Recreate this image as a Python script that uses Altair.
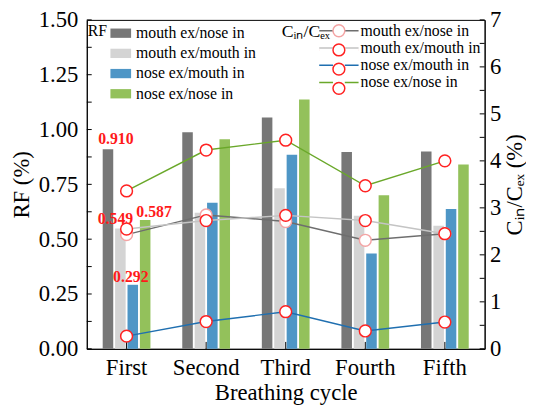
import altair as alt
import pandas as pd

cycles = ["First", "Second", "Third", "Fourth", "Fifth"]
series = ["mouth ex/nose in", "mouth ex/mouth in", "nose ex/mouth in", "nose ex/nose in"]

# RF (%) bars
rf_mouth_nose = [0.910, 0.988, 1.055, 0.898, 0.900]
rf_mouth_mouth = [0.549, 0.620, 0.732, 0.607, 0.561]
rf_nose_mouth = [0.292, 0.666, 0.885, 0.435, 0.638]
rf_nose_nose = [0.587, 0.956, 1.137, 0.700, 0.840]

# Cin/Cex (%) lines
c_mouth_nose = [2.43, 2.85, 2.71, 2.31, 2.45]
c_mouth_mouth = [2.55, 2.73, 2.84, 2.73, 2.45]
c_nose_mouth = [0.27, 0.58, 0.79, 0.38, 0.57]
c_nose_nose = [3.36, 4.23, 4.44, 3.47, 4.00]

label_series = ["mouth ex/nose in", "mouth ex/mouth in", "nose ex/nose in", "nose ex/mouth in"]
label_values = [0.910, 0.549, 0.587, 0.292]
label_text = ["0.910", "0.549", "0.587", "0.292"]

rf_major = [0, 0.25, 0.5, 0.75, 1.0, 1.25, 1.5]
rf_minor = [i * 0.125 for i in range(13)]
c_major = [0, 1, 2, 3, 4, 5, 6, 7]
c_minor = [i * 0.5 for i in range(15)]

rf_lists = [rf_mouth_nose, rf_mouth_mouth, rf_nose_mouth, rf_nose_nose]
c_lists = [c_mouth_nose, c_mouth_mouth, c_nose_mouth, c_nose_nose]

bar_df = pd.DataFrame([
    {"cycle": c, "series": s, "rf": v}
    for s, vals in zip(series, rf_lists) for c, v in zip(cycles, vals)
])
line_df = pd.DataFrame([
    {"cycle": c, "series_l": s, "series_p": s, "cin": v}
    for s, vals in zip(series, c_lists) for c, v in zip(cycles, vals)
])
lab_df = pd.DataFrame({"cycle": "First", "series": label_series, "rf": label_values, "txt": label_text})
rf_tick_df = pd.DataFrame({"rf": rf_minor})
c_tick_df = pd.DataFrame({"cin": c_minor})
x_tick_df = pd.DataFrame({"cycle": cycles})

FONT = "Liberation Serif"
bar_colors = ["#777777", "#d4d4d4", "#4e96c6", "#93c15b"]
line_colors = ["#6e6e6e", "#c4c4c4", "#1f6fb0", "#6aa82a"]
pt_colors = ["#f4a4a4", "#ff2222", "#ff2222", "#ff2222"]

xscale = alt.Scale(paddingInner=0.4, paddingOuter=0.2)
X_TITLE = "Breathing cycle"
x_main = alt.X("cycle:N", sort=cycles, title=X_TITLE, scale=xscale,
               axis=alt.Axis(labelAngle=0, labelFont=FONT, labelFontSize=23, labelColor="black",
                             titleFont=FONT, titleFontSize=23, titleFontWeight="normal", titleColor="black",
                             domainColor="black", ticks=False, tickSize=0, labelPadding=8, titlePadding=2))
x_plain = alt.X("cycle:N", sort=cycles, title=X_TITLE, scale=xscale)
xoff = alt.XOffset("series:N", sort=series, scale=alt.Scale(paddingInner=0.15, paddingOuter=0))

legend_title_c = "Cᵢₙ/Cₑₓ"
# symbol unit = 6 px (symbolSize 144); both legend symbols share the same bounds (±20 px)
line_path = "M-3.33,0H-1M1,0H3.33"
circ_path = "M-3.33,0L-3.32,0M3.32,0L3.33,0M1,0A1,1 0 1,1 -1,0A1,1 0 1,1 1,0Z"

common_leg = dict(orient="none", titleOrient="left", titleAnchor="start", titleBaseline="top",
                  titleFont=FONT, titleFontWeight="normal", titleColor="black",
                  labelFont=FONT, labelFontSize=16, labelColor="black", padding=0, rowPadding=1.5)

RF_TITLE = "RF (%)"
C_TITLE = "Cᵢₙ/Cₑₓ (%)"
rf_scale = alt.Scale(domain=[0, 1.5], nice=False, zero=True)
c_scale = alt.Scale(domain=[0, 7], nice=False)

bars = alt.Chart(bar_df).mark_bar().encode(
    x=x_main, xOffset=xoff,
    y=alt.Y("rf:Q", title=RF_TITLE, scale=rf_scale,
            axis=alt.Axis(values=rf_major, format=".2f",
                          labelFont=FONT, labelFontSize=23, labelColor="black",
                          titleFont=FONT, titleFontSize=23, titleFontWeight="normal", titleColor="black",
                          domainColor="black", ticks=False, tickSize=0, labelPadding=9,
                          titlePadding=5, grid=False)),
    fill=alt.Fill("series:N", sort=series,
                  scale=alt.Scale(domain=series, range=bar_colors),
                  legend=alt.Legend(title="RF", legendX=1, legendY=3, titlePadding=3, titleFontSize=16,
                                    symbolType="M-1,-0.45H1V0.45H-1Z", symbolSize=441,
                                    symbolStrokeWidth=0, labelOffset=5,
                                    **common_leg)),
)

label_dx = {"0.910": 8, "0.549": -5, "0.587": 9, "0.292": -2}
label_dy = {"0.910": -10, "0.549": -9, "0.587": -8, "0.292": -8}
texts = []
for t in label_text:
    texts.append(alt.Chart(lab_df).transform_filter(alt.datum.txt == t).mark_text(
        font=FONT, fontSize=16, fontWeight="bold", color="#ff1a1a",
        dx=label_dx[t], dy=label_dy[t], baseline="middle").encode(
        x=x_plain, xOffset=xoff,
        y=alt.Y("rf:Q", title=RF_TITLE), text="txt:N"))

# inward ticks on the left axis and along the bottom axis
rf_ticks = alt.Chart(rf_tick_df).mark_rule(color="black", strokeWidth=1).encode(
    y=alt.Y("rf:Q", title=RF_TITLE), x=alt.value(0), x2=alt.value(5))
x_ticks = alt.Chart(x_tick_df).mark_rule(color="black", strokeWidth=1).encode(
    x=x_plain, y=alt.value(334), y2=alt.value(327))

left = alt.layer(bars, *texts, rf_ticks, x_ticks)

y_right = alt.Y("cin:Q", title=C_TITLE, scale=c_scale,
                axis=alt.Axis(orient="right", values=c_major,
                              labelFont=FONT, labelFontSize=23, labelColor="black",
                              titleFont=FONT, titleFontSize=23, titleFontWeight="normal", titleColor="black",
                              titleAngle=270, titleBaseline="top", domainColor="black", ticks=False,
                              tickSize=0, labelPadding=5, titlePadding=3, grid=False))
y_right_plain = alt.Y("cin:Q", title=C_TITLE)

C_LEG_X = 198
C_LEG_Y = 3
c_leg = dict(title=legend_title_c, legendX=C_LEG_X, legendY=C_LEG_Y, titlePadding=1,
             titleFontSize=18, symbolSize=144, symbolStrokeWidth=1.5, labelOffset=14)
lines = alt.Chart(line_df).mark_line(strokeWidth=1.5).encode(
    x=x_plain, y=y_right,
    color=alt.Color("series_l:N", sort=series,
                    scale=alt.Scale(range=line_colors),
                    legend=alt.Legend(symbolType=line_path, **c_leg, **common_leg)),
)
points = alt.Chart(line_df).mark_point(size=144, filled=False, fill="white",
                                         fillOpacity=1, strokeWidth=1.5, opacity=1).encode(
    x=x_plain, y=y_right_plain,
    stroke=alt.Stroke("series_p:N", sort=series,
                      scale=alt.Scale(range=pt_colors),
                      legend=alt.Legend(symbolType=circ_path, symbolFillColor="white",
                                        symbolOpacity=1, titleOpacity=0, labelOpacity=0,
                                        **c_leg, **common_leg)),
)
c_ticks = alt.Chart(c_tick_df).mark_rule(color="black", strokeWidth=1).encode(
    y=y_right_plain, x=alt.value(404), x2=alt.value(399))

right = alt.layer(c_ticks, lines, points)

chart = alt.layer(left, right).resolve_scale(
    y="independent", fill="independent", color="independent", stroke="independent"
).properties(
    width=404, height=334,
    autosize=alt.AutoSizeParams(type="none"),
    padding={"left": 80, "top": 9, "right": 42, "bottom": 56},
).configure_view(stroke="black", strokeWidth=1)

chart.save("out.html", embed_options={"renderer": "svg", "actions": False})
